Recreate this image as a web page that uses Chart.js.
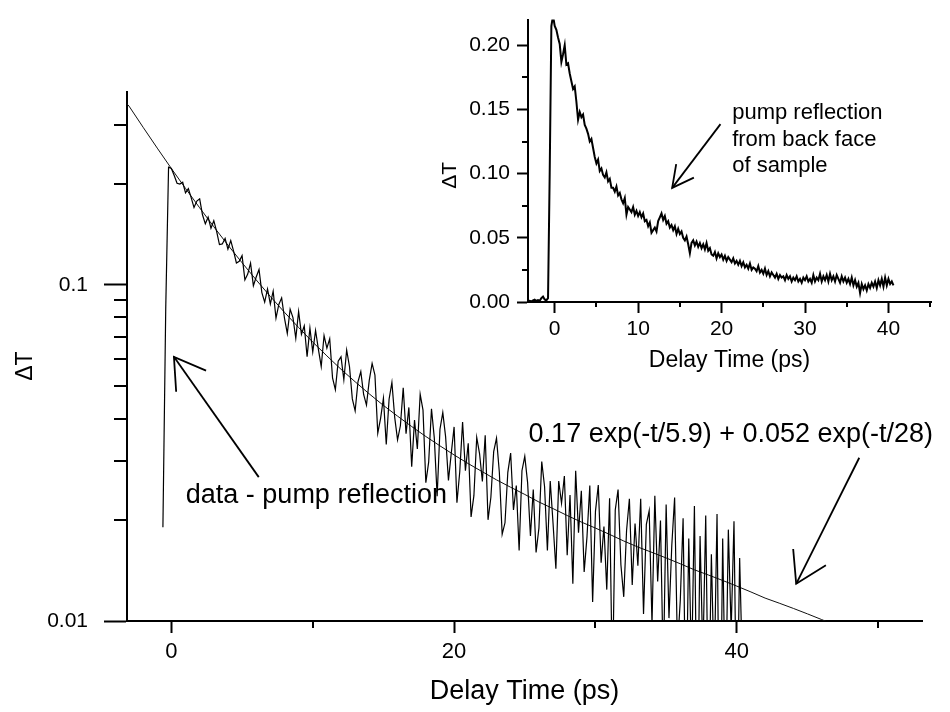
<!DOCTYPE html>
<html><head><meta charset="utf-8">
<script src="https://cdn.jsdelivr.net/npm/chart.js@4"></script>
<style>
html,body{margin:0;padding:0;background:#fff;}
#wrap{position:relative;width:950px;height:712px;overflow:hidden;background:#fff;}
#main{position:absolute;left:0;top:0;}
#inset{position:absolute;left:400px;top:0;}
</style>
</head><body>
<div id="wrap"><canvas id="main" width="950" height="712"></canvas><canvas id="inset" width="550" height="380"></canvas></div>
<script>
// ---------- DATA ----------
// Main panel: measured trace (data - pump reflection), sampled every 0.2 ps from -0.6 ps
const mainT0 = -0.6, mainDt = 0.2;
const mainVals = [0.019, 0.085, 0.224,
0.2220, 0.2117, 0.2007, 0.1995, 0.2021,
0.1879, 0.1933, 0.1818, 0.1699, 0.1776,
0.1803, 0.1617, 0.1520, 0.1591, 0.1475,
0.1553, 0.1443, 0.1318, 0.1324, 0.1375,
0.1277, 0.1354, 0.1261, 0.1162, 0.1175,
0.1222, 0.1035, 0.1077, 0.1161, 0.0995,
0.1056, 0.1112, 0.0949, 0.0889, 0.0973,
0.0878, 0.0958, 0.0797, 0.0875, 0.0915,
0.0797, 0.0717, 0.0847, 0.0799, 0.0694,
0.0834, 0.0713, 0.0755, 0.0612, 0.0744,
0.0632, 0.0732, 0.0643, 0.0572, 0.0707,
0.0648, 0.0691, 0.0529, 0.0488, 0.0593,
0.0611, 0.0522, 0.0640, 0.0571, 0.0458,
0.0422, 0.0515, 0.0552, 0.0472, 0.0439,
0.0521, 0.0584, 0.0539, 0.0362, 0.0401,
0.0460, 0.0335, 0.0457, 0.0513, 0.0403,
0.0346, 0.0381, 0.0494, 0.0361, 0.0432,
0.0288, 0.0396, 0.0325, 0.0473, 0.0424,
0.0258, 0.0297, 0.0428, 0.0350, 0.0235,
0.0372, 0.0417, 0.0353, 0.0262, 0.0316,
0.0378, 0.0225, 0.0278, 0.0391, 0.0280,
0.0338, 0.0204, 0.0236, 0.0352, 0.0315,
0.0260, 0.0357, 0.0200, 0.0233, 0.0319,
0.0350, 0.0277, 0.0181, 0.0196, 0.0277,
0.0316, 0.0214, 0.0253, 0.0162, 0.0280,
0.0309, 0.0258, 0.0179, 0.0246, 0.0160,
0.0189, 0.0298, 0.0251, 0.0162, 0.0261,
0.0195, 0.0143, 0.0261, 0.0224, 0.0270,
0.0157, 0.0237, 0.0129, 0.0280, 0.0183,
0.0244, 0.0140, 0.0178, 0.0253, 0.0114,
0.0212, 0.0254, 0.0149, 0.0191, 0.0124,
0.0232, 0.0064, 0.0214, 0.0246, 0.0147,
0.0118, 0.0186, 0.0231, 0.0128, 0.0195,
0.0146, 0.0231, 0.0105, 0.0194, 0.0213,
0.0098, 0.0236, 0.0131, 0.0199, 0.0070,
0.0222, 0.0102, 0.0168, 0.0233, 0.0083,
0.0115, 0.0202, 0.0049, 0.0176, 0.0072,
0.0220, 0.0040, 0.0179, 0.0078, 0.0206,
0.0047, 0.0158, 0.0068, 0.0208, 0.0031,
0.0176, 0.0052, 0.0187, 0.0094, 0.0198,
0.0043, 0.0154, 0.0070];

// Main panel: biexponential fit curve 0.17 exp(-t/5.9) + 0.052 exp(-t/28), tabulated
const fitT = [-3.14, -3, -2, -1, 0, 1, 2, 3, 4, 5, 6, 7, 8, 9, 10, 11, 12, 13, 14, 15, 16, 17, 18, 19, 20,
  21, 22, 23, 24, 25, 26, 27, 28, 29, 30, 31, 32, 33, 34, 35, 36, 37, 38, 39, 40, 41, 42, 43, 44, 45, 46, 46.5];
const fitVals = [0.3456, 0.3406, 0.2945, 0.2553, 0.2220, 0.1937, 0.1696, 0.1490, 0.1314, 0.1164, 0.1035, 0.0924,
  0.0829, 0.0747, 0.0676, 0.0615, 0.0561, 0.0515, 0.0474, 0.0438, 0.0407, 0.0379, 0.0354, 0.0332, 0.0312,
  0.0294, 0.0278, 0.0263, 0.0250, 0.0238, 0.0226, 0.0216, 0.0206, 0.0197, 0.0189, 0.0181, 0.0173, 0.0166,
  0.0160, 0.0154, 0.0148, 0.0142, 0.0137, 0.0132, 0.0127, 0.0122, 0.0117, 0.0113, 0.0109, 0.0105, 0.0101, 0.0099];

// Inset: pump reflection from back face, sampled every 0.2 ps from -3.2 ps
const insetT0 = -3.2, insetDt = 0.2;
const insetVals = [
0.0005, 0.0010, 0.0004, 0.0012, 0.0018,
0.0008, 0.0015, 0.0010, 0.0030, 0.0042,
0.0020, 0.0012, 0.0030, 0.1000, 0.2150,
0.2230, 0.2150, 0.2120, 0.2060, 0.2010,
0.1870, 0.1930, 0.2000, 0.1850, 0.1860,
0.1780, 0.1720, 0.1660, 0.1680, 0.1560,
0.1420, 0.1480, 0.1440, 0.1460, 0.1380,
0.1350, 0.1310, 0.1250, 0.1270, 0.1200,
0.1130, 0.1080, 0.1110, 0.1020, 0.1040,
0.0990, 0.0970, 0.1010, 0.0940, 0.0960,
0.0890, 0.0890, 0.0860, 0.0900, 0.0830,
0.0850, 0.0800, 0.0770, 0.0810, 0.0680,
0.0740, 0.0720, 0.0700, 0.0740, 0.0680,
0.0710, 0.0670, 0.0700, 0.0660, 0.0690,
0.0630, 0.0640, 0.0590, 0.0620, 0.0540,
0.0560, 0.0580, 0.0550, 0.0630, 0.0660,
0.0690, 0.0640, 0.0670, 0.0610, 0.0630,
0.0580, 0.0600, 0.0560, 0.0590, 0.0530,
0.0570, 0.0530, 0.0550, 0.0500, 0.0480,
0.0510, 0.0450, 0.0380, 0.0460, 0.0480,
0.0440, 0.0470, 0.0430, 0.0460, 0.0420,
0.0450, 0.0410, 0.0460, 0.0400, 0.0420,
0.0370, 0.0360, 0.0390, 0.0340, 0.0380,
0.0350, 0.0370, 0.0330, 0.0360, 0.0320,
0.0350, 0.0330, 0.0310, 0.0340, 0.0300,
0.0320, 0.0290, 0.0320, 0.0280, 0.0310,
0.0270, 0.0290, 0.0260, 0.0300, 0.0250,
0.0270, 0.0260, 0.0240, 0.0280, 0.0230,
0.0250, 0.0220, 0.0260, 0.0210, 0.0240,
0.0200, 0.0230, 0.0210, 0.0190, 0.0220,
0.0180, 0.0210, 0.0190, 0.0200, 0.0170,
0.0210, 0.0180, 0.0200, 0.0160, 0.0190,
0.0170, 0.0200, 0.0160, 0.0180, 0.0150,
0.0190, 0.0170, 0.0200, 0.0160, 0.0180,
0.0150, 0.0210, 0.0160, 0.0190, 0.0170,
0.0220, 0.0160, 0.0200, 0.0170, 0.0210,
0.0160, 0.0220, 0.0170, 0.0200, 0.0160,
0.0210, 0.0180, 0.0150, 0.0200, 0.0160,
0.0190, 0.0150, 0.0180, 0.0140, 0.0190,
0.0130, 0.0170, 0.0120, 0.0150, 0.0070,
0.0140, 0.0100, 0.0130, 0.0090, 0.0140,
0.0110, 0.0150, 0.0120, 0.0160, 0.0110,
0.0170, 0.0130, 0.0180, 0.0120, 0.0190,
0.0130, 0.0180, 0.0140, 0.0160, 0.0130];

// Ticks
const mainXTicks = [0, 20, 40];
const mainXLabels = ['0', '20', '40'];
const mainXMinor = [10, 30, 50];
const mainYTicks = [0.01, 0.1];
const mainYLabels = ['0.01', '0.1'];
const mainYMinor = [0.02, 0.03, 0.04, 0.05, 0.06, 0.07, 0.08, 0.09, 0.2, 0.3];
const insetXTicks = [0, 10, 20, 30, 40];
const insetXLabels = ['0', '10', '20', '30', '40'];
const insetXMinor = [5, 15, 25, 35, 45];
const insetYTicks = [0, 0.05, 0.1, 0.15, 0.2];
const insetYLabels = ['0.00', '0.05', '0.10', '0.15', '0.20'];
const insetYMinor = [0.025, 0.075, 0.125, 0.175];

// Annotations (anchored in data units)
const mainNotes = [
  {text: 'data - pump reflection', t: 1.02, v: 0.0224},
  {text: '0.17 exp(-t/5.9) + 0.052 exp(-t/28)', t: 25.27, v: 0.0341}
];
const mainArrows = [
  {from: [6.18, 0.0268], to: [0.18, 0.0611]},
  {from: [48.66, 0.0306], to: [44.2, 0.0129]}
];
const insetNotes = [
  {text: 'pump reflection', t: 21.27, v: 0.1423},
  {text: 'from back face', t: 21.27, v: 0.1213},
  {text: 'of sample', t: 21.27, v: 0.1010}
];
const insetArrows = [
  {from: [19.87, 0.1386], to: [14.08, 0.0889]}
];

// ---------- RENDER ----------
const FAM = '"Liberation Sans", Arial, Helvetica, sans-serif';
Chart.defaults.font.family = FAM;
Chart.defaults.color = '#000';

function series(t0, dt, vals) {
  return vals.map((v, i) => ({x: +(t0 + i * dt).toFixed(3), y: v}));
}
function pairs(ts, vals) { return ts.map((t, i) => ({x: t, y: vals[i]})); }

function minorTicks(xVals, xLen, yVals, yLen) {
  return {
    id: 'minorTicks',
    afterDraw(chart) {
      const ctx = chart.ctx, a = chart.chartArea, xs = chart.scales.x, ys = chart.scales.y;
      ctx.save(); ctx.strokeStyle = '#000'; ctx.lineWidth = 2;
      xVals.forEach(v => { const p = Math.round(xs.getPixelForValue(v)); ctx.beginPath(); ctx.moveTo(p, a.bottom); ctx.lineTo(p, a.bottom + xLen); ctx.stroke(); });
      yVals.forEach(v => { const p = Math.round(ys.getPixelForValue(v)); ctx.beginPath(); ctx.moveTo(a.left, p); ctx.lineTo(a.left - yLen, p); ctx.stroke(); });
      ctx.restore();
    }
  };
}
function notes(list, arrows, size, head, ang) {
  return {
    id: 'notes',
    afterDraw(chart) {
      const ctx = chart.ctx, xs = chart.scales.x, ys = chart.scales.y;
      ctx.save();
      ctx.fillStyle = '#000'; ctx.strokeStyle = '#000'; ctx.lineWidth = 1.8;
      ctx.font = size + 'px ' + FAM; ctx.textAlign = 'left'; ctx.textBaseline = 'alphabetic';
      list.forEach(n => ctx.fillText(n.text, xs.getPixelForValue(n.t), ys.getPixelForValue(n.v)));
      arrows.forEach(ar => {
        const x1 = xs.getPixelForValue(ar.from[0]), y1 = ys.getPixelForValue(ar.from[1]);
        const x2 = xs.getPixelForValue(ar.to[0]), y2 = ys.getPixelForValue(ar.to[1]);
        const a = Math.atan2(y1 - y2, x1 - x2);
        ctx.beginPath(); ctx.moveTo(x1, y1); ctx.lineTo(x2, y2); ctx.stroke();
        ctx.beginPath();
        ctx.moveTo(x2 + head * Math.cos(a + ang), y2 + head * Math.sin(a + ang));
        ctx.lineTo(x2, y2);
        ctx.lineTo(x2 + head * Math.cos(a - ang), y2 + head * Math.sin(a - ang));
        ctx.stroke();
      });
      ctx.restore();
    }
  };
}
const NB = '\u00a0';

new Chart(document.getElementById('main'), {
  type: 'line',
  data: {datasets: [
    {data: series(mainT0, mainDt, mainVals), borderColor: '#000', borderWidth: 1.2, pointRadius: 0, tension: 0, fill: false},
    {data: pairs(fitT, fitVals), borderColor: '#111', borderWidth: 1, pointRadius: 0, tension: 0, fill: false}
  ]},
  options: {
    responsive: false, animation: false, devicePixelRatio: 1,
    layout: {padding: {left: 0, right: 28, top: 92, bottom: 0}},
    plugins: {legend: {display: false}, tooltip: {enabled: false}},
    scales: {
      x: {
        type: 'linear', min: -3.14, max: 53.1,
        afterBuildTicks: s => { s.ticks = mainXTicks.map(v => ({value: v})); },
        afterFit: s => { s.height = 91; },
        grid: {drawOnChartArea: false, drawTicks: true, tickLength: 12, tickWidth: 2, tickColor: '#000'},
        border: {display: true, color: '#000', width: 2},
        ticks: {font: {size: 22}, color: '#000', padding: 6, maxRotation: 0, autoSkip: false,
                callback: (v, i) => mainXLabels[i]},
        title: {display: true, text: 'Delay Time (ps)', color: '#000', font: {size: 27}, padding: {top: 0, bottom: 4}}
      },
      y: {
        type: 'logarithmic', min: 0.01, max: 0.375,
        afterBuildTicks: s => { s.ticks = mainYTicks.map(v => ({value: v})); },
        afterFit: s => { s.width = 127; },
        grid: {drawOnChartArea: false, drawTicks: true, tickLength: 23, tickWidth: 2, tickColor: '#000'},
        border: {display: true, color: '#000', width: 2},
        ticks: {font: {size: 21}, color: '#000', padding: 16, autoSkip: false,
                callback: (v, i) => mainYLabels[i]},
        title: {display: true, text: '\u0394T' + NB + NB + NB, color: '#000', font: {size: 23}, padding: {top: 12, bottom: 0}}
      }
    }
  },
  plugins: [minorTicks(mainXMinor, 7, mainYMinor, 13), notes(mainNotes, mainArrows, 27, 35, 0.55)]
});

new Chart(document.getElementById('inset'), {
  type: 'line',
  data: {datasets: [
    {data: series(insetT0, insetDt, insetVals), borderColor: '#000', borderWidth: 2, pointRadius: 0, tension: 0, fill: false}
  ]},
  options: {
    responsive: false, animation: false, devicePixelRatio: 1,
    layout: {padding: {left: 0, right: 19, top: 10, bottom: 0}},
    plugins: {legend: {display: false}, tooltip: {enabled: false}},
    scales: {
      x: {
        type: 'linear', min: -3.2, max: 45.1,
        afterBuildTicks: s => { s.ticks = insetXTicks.map(v => ({value: v})); },
        afterFit: s => { s.height = 78; },
        grid: {drawOnChartArea: false, drawTicks: true, tickLength: 11, tickWidth: 2, tickColor: '#000'},
        border: {display: true, color: '#000', width: 2},
        ticks: {font: {size: 21}, color: '#000', padding: 4, maxRotation: 0, autoSkip: false,
                callback: (v, i) => insetXLabels[i]},
        title: {display: true, text: 'Delay Time (ps)', color: '#000', font: {size: 23}, padding: {top: 0, bottom: 6}}
      },
      y: {
        type: 'linear', min: 0, max: 0.22,
        afterBuildTicks: s => { s.ticks = insetYTicks.map(v => ({value: v})); },
        afterFit: s => { s.width = 128; },
        grid: {drawOnChartArea: false, drawTicks: true, tickLength: 11, tickWidth: 2, tickColor: '#000'},
        border: {display: true, color: '#000', width: 2},
        ticks: {font: {size: 21}, color: '#000', padding: 7, autoSkip: false,
                callback: (v, i) => insetYLabels[i]},
        title: {display: true, text: '\u0394T' + NB + NB + NB + NB + NB, color: '#000', font: {size: 21}, padding: {top: 38, bottom: 0}}
      }
    }
  },
  plugins: [minorTicks(insetXMinor, 5, insetYMinor, 6), notes(insetNotes, insetArrows, 22, 24, 0.48)]
});
</script>
</body></html>
